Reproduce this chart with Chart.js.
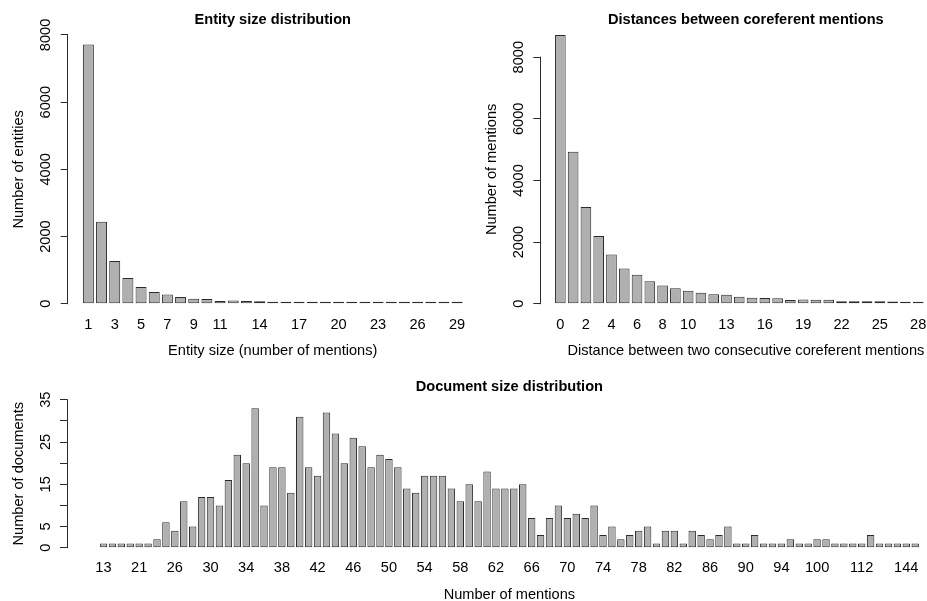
<!DOCTYPE html>
<html>
<head>
<meta charset="utf-8">
<title>Coreference corpus statistics</title>
<script src="https://cdn.jsdelivr.net/npm/chart.js@4.4.1/dist/chart.umd.min.js"></script>
<style>
  html, body { margin: 0; padding: 0; background: #fff; overflow: hidden; }
  body { width: 927px; height: 601px; position: relative; }
  canvas { position: absolute; }
  #chart-entity { left: 0; top: 0; }
  #chart-distance { left: 470px; top: 0; }
  #chart-docs { left: 0; top: 365px; }
</style>
</head>
<body>
<canvas id="chart-entity" width="490" height="365"></canvas>
<canvas id="chart-distance" width="500" height="365"></canvas>
<canvas id="chart-docs" width="960" height="250"></canvas>
<script>
// entity size distribution
const entitySizes = [1, 2, 3, 4, 5, 6, 7, 8, 9, 10, 11, 12, 13, 14, 15, 16, 17, 18, 19, 20, 21, 22, 23, 24, 25, 26, 27, 28, 29]
const entityCounts = [7720, 2440, 1275, 770, 500, 350, 272, 203, 150, 140, 85, 95, 85, 75, 55, 38, 36, 36, 30, 25, 22, 20, 18, 15, 12, 12, 10, 8, 8]
const entityTickLabels = ['1', '3', '5', '7', '9', '11', '14', '17', '20', '23', '26', '29']
const entityYTicks = [0, 2000, 4000, 6000, 8000]
const entityYLabels = [0, 2000, 4000, 6000, 8000]

// distances between consecutive coreferent mentions
const distances = [0, 1, 2, 3, 4, 5, 6, 7, 8, 9, 10, 11, 12, 13, 14, 15, 16, 17, 18, 19, 20, 21, 22, 23, 24, 25, 26, 27, 28]
const distanceCounts = [8720, 4930, 3140, 2200, 1600, 1145, 940, 730, 590, 500, 425, 360, 310, 295, 227, 194, 188, 178, 125, 135, 130, 128, 78, 84, 80, 83, 70, 65, 50]
const distanceTickLabels = ['0', '2', '4', '6', '8', '10', '13', '16', '19', '22', '25', '28']
const distanceYTicks = [0, 2000, 4000, 6000, 8000]
const distanceYLabels = [0, 2000, 4000, 6000, 8000]

// document sizes (number of mentions per document)
const docSizes = [13, 16, 18, 20, 21, 23, 24, 25, 26, 27, 28, 29, 30, 31, 32, 33, 34, 35, 36, 37,
  38, 39, 40, 41, 42, 43, 44, 45, 46, 47, 48, 49, 50, 51, 52, 53, 54, 55, 56, 57,
  58, 59, 60, 61, 62, 63, 64, 65, 66, 67, 68, 69, 70, 71, 72, 73, 74, 75, 76, 77,
  78, 79, 80, 81, 82, 83, 84, 85, 86, 87, 88, 89, 90, 91, 92, 93, 94, 95, 96, 98,
  100, 101, 103, 105, 108, 112, 115, 119, 124, 131, 144, 157]
const docCounts = [1, 1, 1, 1, 1, 1, 2, 6, 4, 11, 5, 12, 12, 10, 16, 22, 20, 33, 10, 19,
  19, 13, 31, 19, 17, 32, 27, 20, 26, 24, 19, 22, 21, 19, 14, 13, 17, 17, 17, 14,
  11, 15, 11, 18, 14, 14, 14, 15, 7, 3, 7, 10, 7, 8, 7, 10, 3, 5, 2, 3,
  4, 5, 1, 4, 4, 1, 4, 3, 2, 3, 5, 1, 1, 3, 1, 1, 1, 2, 1, 1,
  2, 2, 1, 1, 1, 1, 3, 1, 1, 1, 1, 1]
const docTickLabels = ['13', '21', '26', '30', '34', '38', '42', '46', '50', '54', '58', '62', '66', '70', '74', '78', '82', '86', '90', '94', '100', '112', '144']
const docYTicks = [0, 5, 10, 15, 20, 25, 30, 35]
const docYLabels = [0, 5, 15, 25, 35]

const ink = '#2b2b2b'
const barFill = '#b0b0b0'
const fontSize = 14.6

Chart.defaults.font.family = "'Liberation Sans', Arial, Helvetica, sans-serif"
Chart.defaults.font.size = fontSize
Chart.defaults.color = '#000'

// R style y axis line: only between first and last tick
const rAxisLine = {
    id: 'rAxisLine',
    afterDraw(chart) {
        const y = chart.scales.y
        const ctx = chart.ctx
        const x = Math.round(chart.chartArea.left - 0.5) + 0.5
        ctx.save()
        ctx.strokeStyle = ink
        ctx.lineWidth = 1
        ctx.beginPath()
        ctx.moveTo(x, y.getPixelForValue(y.ticks[0].value) + 0.5)
        ctx.lineTo(x, y.getPixelForValue(y.ticks[y.ticks.length - 1].value) - 0.5)
        ctx.stroke()
        ctx.restore()
    }
}
Chart.register(rAxisLine)

function rBarChart(id, p) {
    const span = p.ylim[1] - p.ylim[0]
    return new Chart(document.getElementById(id), {
        type: 'bar',
        data: {
            labels: p.labels.map(String),
            datasets: [{
                data: p.counts,
                backgroundColor: barFill,
                borderColor: ink,
                borderWidth: 1,
                borderSkipped: false,
                categoryPercentage: 1,
                barPercentage: 1 / 1.2,
                minBarLength: 2
            }]
        },
        options: {
            responsive: false,
            animation: false,
            events: [],
            layout: { padding: { left: p.padLeft, right: p.padRight, top: 0, bottom: 0 } },
            plugins: {
                legend: { display: false },
                tooltip: { enabled: false },
                title: {
                    display: true,
                    text: p.title,
                    fullSize: false,
                    color: '#000',
                    font: { weight: 'bold', size: fontSize },
                    padding: { top: p.titleTop, bottom: p.titleBottom }
                }
            },
            scales: {
                x: {
                    grid: { display: false, drawTicks: false },
                    border: { display: false },
                    ticks: {
                        autoSkip: false,
                        maxRotation: 0,
                        minRotation: 0,
                        padding: p.xTickPad,
                        callback: function(v) {
                            const lab = this.getLabelForValue(v)
                            return p.shown.includes(lab) ? lab : ''
                        }
                    },
                    title: { display: true, text: p.xTitle, padding: { top: 0, bottom: p.xTitleBottom } },
                    // widen the category range like R's 4% axis expansion
                    afterBuildTicks: function(s) {
                        s._startValue -= p.extL
                        s._valueRange += p.extL + p.extR
                    },
                    afterFit: function(s) { s.height = p.xHeight }
                },
                y: {
                    min: p.ylim[0] - 0.04 * span,
                    max: p.ylim[1] + 0.04 * span,
                    grid: { display: true, drawOnChartArea: false, drawTicks: true, tickLength: 7, color: ink, lineWidth: 1 },
                    border: { display: false },
                    ticks: {
                        minRotation: 90,
                        maxRotation: 90,
                        crossAlign: 'center',
                        padding: p.yTickPad,
                        callback: function(v) { return p.yLabels.includes(v) ? String(v) : '' }
                    },
                    afterBuildTicks: function(s) {
                        s.ticks = p.yTicks.map(function(v) { return { value: v } })
                    },
                    title: { display: true, text: p.yTitle, padding: 0 },
                    afterFit: function(s) { s.width = p.yWidth }
                }
            }
        }
    })
}

rBarChart('chart-entity', {
    labels: entitySizes, counts: entityCounts, shown: entityTickLabels,
    yTicks: entityYTicks, yLabels: entityYLabels,
    ylim: [0, 8000],
    title: 'Entity size distribution',
    xTitle: 'Entity size (number of mentions)',
    yTitle: 'Number of entities',
    padLeft: 10.5, padRight: 12.2, yWidth: 57.2, yTickPad: -1.7,
    titleTop: 11.5, titleBottom: -4.8,
    xHeight: 50.5, xTickPad: 1.7, xTitleBottom: 5.7,
    extL: 1.07, extR: 1.07
})

rBarChart('chart-distance', {
    labels: distances, counts: distanceCounts, shown: distanceTickLabels,
    yTicks: distanceYTicks, yLabels: distanceYLabels,
    ylim: [0, Math.max.apply(null, distanceCounts)],
    title: 'Distances between coreferent mentions',
    xTitle: 'Distance between two consecutive coreferent mentions',
    yTitle: 'Number of mentions',
    padLeft: 13.1, padRight: 18.6, yWidth: 57.2, yTickPad: -1.7,
    titleTop: 11.5, titleBottom: -4.8,
    xHeight: 50.5, xTickPad: 1.7, xTitleBottom: 5.7,
    extL: 1.07, extR: 2.1
})

rBarChart('chart-docs', {
    labels: docSizes, counts: docCounts, shown: docTickLabels,
    yTicks: docYTicks, yLabels: docYLabels,
    ylim: [0, 35],
    title: 'Document size distribution',
    xTitle: 'Number of mentions',
    yTitle: 'Number of documents',
    padLeft: 10.5, padRight: 8.3, yWidth: 56.5, yTickPad: 6.4,
    titleTop: 13.2, titleBottom: -1.9,
    xHeight: 61.4, xTickPad: 5.9, xTitleBottom: 11.2,
    extL: 3.59, extR: 3.59
})
</script>
</body>
</html>
